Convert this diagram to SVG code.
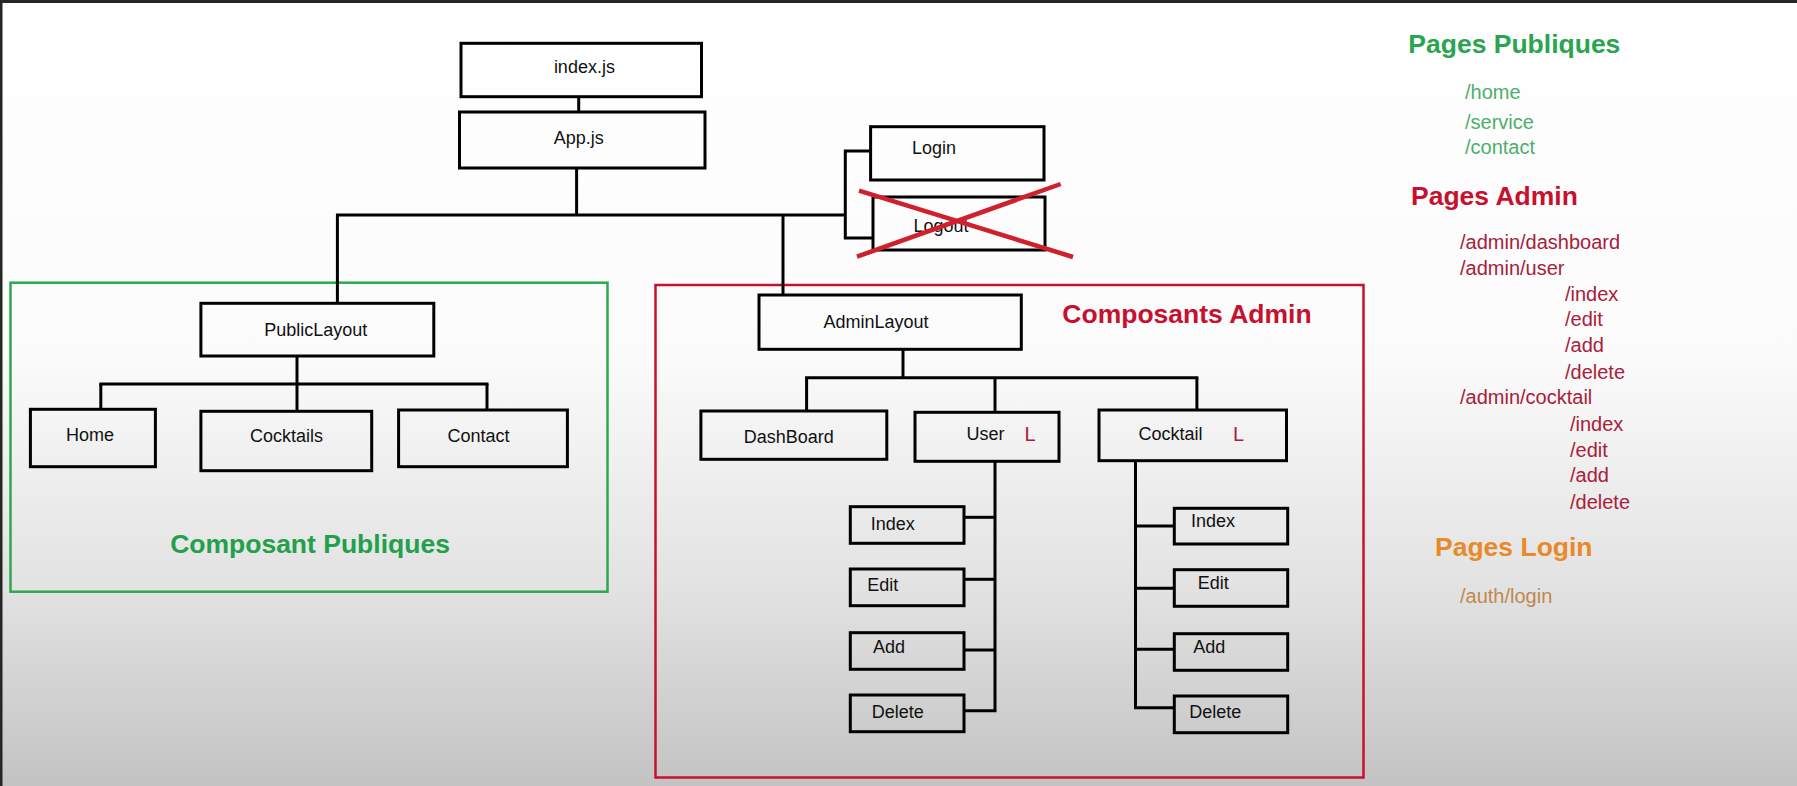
<svg xmlns="http://www.w3.org/2000/svg" width="1797" height="786" viewBox="0 0 1797 786">
<defs>
<linearGradient id="bg" x1="0" y1="0" x2="0" y2="1">
<stop offset="0" stop-color="#ffffff"/>
<stop offset="0.45" stop-color="#fbfbfb"/>
<stop offset="0.75" stop-color="#e2e2e2"/>
<stop offset="1" stop-color="#c3c3c3"/>
</linearGradient>
<style>
.box{fill:none;stroke:#000;stroke-width:3}
.ln{fill:none;stroke:#000;stroke-width:3}
.t{font-family:"Liberation Sans",Arial,sans-serif;font-size:18px;fill:#111}
.c{text-anchor:middle}
.h{font-family:"Liberation Sans",Arial,sans-serif;font-weight:bold;font-size:26.5px}
.r{font-family:"Liberation Sans",Arial,sans-serif;font-size:20px}
.gr{fill:#4caf6a}
.ar{fill:#a8203a}
</style>
</defs>
<rect x="0" y="0" width="1797" height="786" fill="url(#bg)"/>
<rect x="0" y="0" width="1797" height="3" fill="#262626"/>
<rect x="0" y="0" width="2.5" height="786" fill="#262626"/>

<g id="group-public">
<rect x="10.5" y="282.7" width="597" height="309" fill="none" stroke="#2ea84f" stroke-width="2.5"/>
<text class="h" x="310" y="553" text-anchor="middle" fill="#22a04b" font-size="27">Composant Publiques</text>
</g>
<g id="group-admin">
<rect x="655.5" y="285" width="708" height="492.5" fill="none" stroke="#c8102e" stroke-width="2.5"/>
<text class="h" x="1187" y="323" text-anchor="middle" fill="#c8102e" font-size="27">Composants Admin</text>
</g>

<g id="connectors">
<line class="ln" x1="578.7" y1="96.7" x2="578.7" y2="112"/>
<line class="ln" x1="576.6" y1="168" x2="576.6" y2="215"/>
<line class="ln" x1="336" y1="215" x2="845.3" y2="215"/>
<line class="ln" x1="337.4" y1="215" x2="337.4" y2="303.3"/>
<line class="ln" x1="783" y1="215" x2="783" y2="295"/>
<polyline class="ln" points="870.6,151 845.3,151 845.3,238 873,238"/>
<line class="ln" x1="297" y1="356" x2="297" y2="384"/>
<line class="ln" x1="99.3" y1="384" x2="488.5" y2="384"/>
<line class="ln" x1="100.8" y1="384" x2="100.8" y2="409.3"/>
<line class="ln" x1="297" y1="384" x2="297" y2="411.3"/>
<line class="ln" x1="487" y1="384" x2="487" y2="410"/>
<line class="ln" x1="903" y1="349.3" x2="903" y2="377.7"/>
<line class="ln" x1="805.1" y1="377.7" x2="1198.4" y2="377.7"/>
<line class="ln" x1="806.6" y1="377.7" x2="806.6" y2="411"/>
<line class="ln" x1="995" y1="377.7" x2="995" y2="412.3"/>
<line class="ln" x1="1196.9" y1="377.7" x2="1196.9" y2="410"/>
<polyline class="ln" points="995,461.3 995,710.7 964,710.7"/>
<line class="ln" x1="964" y1="517.3" x2="995" y2="517.3"/>
<line class="ln" x1="964" y1="579.3" x2="995" y2="579.3"/>
<line class="ln" x1="964" y1="650" x2="995" y2="650"/>
<polyline class="ln" points="1135.5,460.7 1135.5,707.7 1174.3,707.7"/>
<line class="ln" x1="1135.5" y1="526" x2="1174.3" y2="526"/>
<line class="ln" x1="1135.5" y1="588.3" x2="1174.3" y2="588.3"/>
<line class="ln" x1="1135.5" y1="649.3" x2="1174.3" y2="649.3"/>
</g>

<g id="node-index"><rect class="box" x="461" y="43.3" width="240.5" height="53.4"/><text class="t c" x="584.4" y="72.7">index.js</text></g>
<g id="node-app"><rect class="box" x="459.5" y="112" width="245.5" height="56"/><text class="t c" x="578.7" y="144">App.js</text></g>
<g id="node-login"><rect class="box" x="870.6" y="126.7" width="173.4" height="53.3"/><text class="t" x="912" y="154">Login</text></g>
<g id="node-logout"><rect class="box" x="873" y="197" width="172" height="53"/><text class="t" x="913.4" y="231.7">Logout</text>
<line x1="859" y1="190.7" x2="1073" y2="257" stroke="#d0202e" stroke-width="4.5"/>
<line x1="857" y1="256.7" x2="1060.7" y2="184" stroke="#d0202e" stroke-width="4.5"/>
</g>

<g id="node-publiclayout"><rect class="box" x="200.9" y="303.3" width="232.9" height="52.7"/><text class="t c" x="315.7" y="336">PublicLayout</text></g>
<g id="node-home"><rect class="box" x="30.4" y="409.3" width="125" height="57.4"/><text class="t c" x="90" y="440.7" font-size="19">Home</text></g>
<g id="node-cocktails"><rect class="box" x="200.9" y="411.3" width="170.8" height="59.4"/><text class="t c" x="286.5" y="441.5" font-size="19">Cocktails</text></g>
<g id="node-contact"><rect class="box" x="398.6" y="410" width="168.8" height="56.7"/><text class="t c" x="478.5" y="442" font-size="19">Contact</text></g>

<g id="node-adminlayout"><rect class="box" x="759" y="295" width="262.3" height="54.3"/><text class="t c" x="876" y="328">AdminLayout</text></g>
<g id="node-dashboard"><rect class="box" x="700.9" y="411" width="185.9" height="48.3"/><text class="t c" x="788.7" y="443">DashBoard</text></g>
<g id="node-user"><rect class="box" x="915" y="412.3" width="144" height="49"/><text class="t c" x="985.4" y="440">User</text><text class="r ar" x="1024.5" y="441" font-size="17">L</text></g>
<g id="node-cocktail"><rect class="box" x="1099" y="410" width="187.5" height="50.7"/><text class="t c" x="1170.5" y="440">Cocktail</text><text class="r ar" x="1233" y="441" font-size="17">L</text></g>

<g id="node-user-index"><rect class="box" x="850.3" y="506.7" width="113.7" height="36.6"/><text class="t" x="870.7" y="530">Index</text></g>
<g id="node-user-edit"><rect class="box" x="850.3" y="569" width="113.7" height="36.7"/><text class="t" x="867.3" y="590.7">Edit</text></g>
<g id="node-user-add"><rect class="box" x="850.3" y="632.7" width="113.7" height="36.6"/><text class="t" x="873" y="653">Add</text></g>
<g id="node-user-delete"><rect class="box" x="850.3" y="695" width="113.7" height="36.7"/><text class="t" x="871.7" y="718">Delete</text></g>

<g id="node-cocktail-index"><rect class="box" x="1174.3" y="508.3" width="113.4" height="35.7"/><text class="t" x="1191" y="526.7">Index</text></g>
<g id="node-cocktail-edit"><rect class="box" x="1174.3" y="569.7" width="113.4" height="36.6"/><text class="t" x="1197.7" y="589.3">Edit</text></g>
<g id="node-cocktail-add"><rect class="box" x="1174.3" y="633.7" width="113.4" height="36.6"/><text class="t" x="1193.3" y="653.3">Add</text></g>
<g id="node-cocktail-delete"><rect class="box" x="1174.3" y="696" width="113.4" height="36.7"/><text class="t" x="1189.3" y="718.3">Delete</text></g>

<g id="routes">
<text class="h" x="1408.3" y="53.4" fill="#2aa44f">Pages Publiques</text>
<text class="r gr" x="1465" y="98.9">/home</text>
<text class="r gr" x="1465" y="128.5">/service</text>
<text class="r gr" x="1465" y="154.2">/contact</text>
<text class="h" x="1411" y="204.8" fill="#c8102e">Pages Admin</text>
<text class="r ar" x="1460" y="249.1">/admin/dashboard</text>
<text class="r ar" x="1460" y="274.8">/admin/user</text>
<text class="r ar" x="1565" y="300.5">/index</text>
<text class="r ar" x="1565" y="326.2">/edit</text>
<text class="r ar" x="1565" y="351.9">/add</text>
<text class="r ar" x="1565" y="378.8">/delete</text>
<text class="r ar" x="1460" y="404.1">/admin/cocktail</text>
<text class="r ar" x="1570" y="431">/index</text>
<text class="r ar" x="1570" y="456.7">/edit</text>
<text class="r ar" x="1570" y="482.4">/add</text>
<text class="r ar" x="1570" y="508.9">/delete</text>
<text class="h" x="1435" y="555.6" fill="#e8892a">Pages Login</text>
<text class="r" x="1460" y="603" fill="#c0884e">/auth/login</text>
</g>
</svg>
